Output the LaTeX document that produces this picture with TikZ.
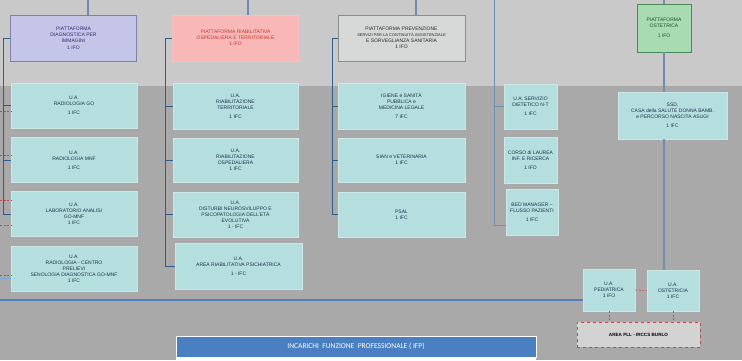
\documentclass[tikz,border=0pt]{standalone}
\usepackage{fontspec}
\setmainfont{Liberation Sans}
\newfontfamily\bannerfont{Carlito}
\usetikzlibrary{positioning, calc, arrows.meta}
\definecolor{topgrey}{HTML}{C8C9C8}
\definecolor{lowgrey}{HTML}{A9A9AA}
\definecolor{uafill}{HTML}{B5DFDE}
\definecolor{uaedge}{HTML}{CBE8E7}
\definecolor{uatext}{HTML}{1C2F4A}
\definecolor{spineblue}{HTML}{2F5F88}
\definecolor{linkgrey}{HTML}{6F8FAF}
\definecolor{reddash}{HTML}{D0454A}
\definecolor{bannerblue}{HTML}{4A7FC1}

\begin{document}
\begin{tikzpicture}[x=1pt, y=-1pt,
		box/.style={draw, rectangle, align=center, inner sep=1pt, font=\fontsize{5}{6}\selectfont},
		piatt/.style={box, minimum width=126pt, minimum height=46pt, line width=0.8pt},
		ua/.style={box, fill=uafill, draw=uaedge, text=uatext, line width=0.6pt, minimum width=126pt, minimum height=45pt},
		uasmall/.style={ua, minimum width=53pt},
		spine/.style={draw=spineblue, line width=1pt},
		link/.style={draw=linkgrey, line width=1.3pt},
		redlink/.style={draw=reddash, dashed, line width=0.6pt, dash pattern=on 2pt off 1.5pt}
		]
		\useasboundingbox (0,0) rectangle (742,360);
		\fill[topgrey] (0,0) rectangle (742,86);
		\fill[lowgrey] (0,86) rectangle (742,360);

		% piattaforme
		\node[piatt, fill={rgb,255:red,197;green,197;blue,232}, draw={rgb,255:red,127;green,127;blue,176}, text={rgb,255:red,42;green,42;blue,122}] (P1) at (73.5,38.5) {PIATTAFORMA\\DIAGNOSTICA PER\\IMMAGINI\\[1pt]1 IFO};
		\node[piatt, fill={rgb,255:red,249;green,184;blue,184}, draw={rgb,255:red,249;green,190;blue,190}, text={rgb,255:red,192;green,57;blue,43}] (P2) at (235.5,38) {PIATTAFORMA RIABILITATIVA\\OSPEDALIERA E TERRITORIALE\\1 IFO};
		\node[piatt, minimum width=127pt, fill={rgb,255:red,214;green,216;blue,216}, draw={rgb,255:red,140;green,140;blue,140}, text={rgb,255:red,40;green,40;blue,40}] (P3) at (401.5,38) {PIATTAFORMA PREVENZIONE\\{\fontsize{4}{6}\selectfont SERVIZI PER LA CONTINUITÀ ASSISTENZIALE}\\E SORVEGLIANZA SANITARIA\\1 IFO};
		\node[piatt, minimum width=54pt, minimum height=48pt, fill={rgb,255:red,168;green,220;blue,176}, draw={rgb,255:red,74;green,138;blue,90}, text={rgb,255:red,30;green,77;blue,43}] (P4) at (664,28) {PIATTAFORMA\\OSTETRICA\\[4pt]1 IFO};

		% colonna diagnostica
		\node[ua] (A1) at (74,105.5) {U.A.\\RADIOLOGIA GO\\[3pt]1 IFC};
		\node[ua] (A2) at (74,160) {U.A.\\RADIOLOGIA MNF\\[3pt]1 IFC};
		\node[ua] (A3) at (74,214) {U.A.\\LABORATORIO ANALISI\\GO-MNF\\1 IFC};
		\node[ua] (A4) at (74,268.5) {U.A.\\RADIOLOGIA - CENTRO\\PRELIEVI\\SENOLOGIA DIAGNOSTICA GO-MNF\\1 IFC};

		% colonna riabilitativa
		\node[ua, minimum width=125pt, minimum height=46pt] (B1) at (235.5,106) {U.A.\\RIABILITAZIONE\\TERRITORIALE\\[3pt]1 IFC};
		\node[ua, minimum width=125pt, minimum height=44pt] (B2) at (235.5,160) {U.A.\\RIABILITAZIONE\\OSPEDALIERA\\1 IFC};
		\node[ua, minimum width=125pt] (B3) at (235.5,214.5) {U.A.\\DISTURBI NEUROSVILUPPO E\\PSICOPATOLOGIA DELL'ETÀ\\EVOLUTIVA\\1 - IFC};
		\node[ua, minimum width=127pt, minimum height=46pt] (B4) at (238.5,266) {U.A.\\AREA RIABILITATIVA PSICHIATRICA\\[3pt]1 - IFC};

		% colonna prevenzione
		\node[ua, minimum width=127pt, minimum height=46pt] (C1) at (401.5,106) {IGIENE e SANITÀ\\PUBBLICA e\\MEDICINA LEGALE\\[3pt]7 IFC};
		\node[ua, minimum width=127pt, minimum height=44pt] (C2) at (401.5,160) {SIAN e VETERINARIA\\1 IFC};
		\node[ua, minimum width=127pt] (C3) at (401.5,214.5) {PSAL\\1 IFC};

		% unita' isolate
		\node[uasmall] (D1) at (530.5,106.5) {U.A. SERVIZIO\\DIETETICO N-T\\[3pt]1 IFC};
		\node[uasmall, minimum height=46pt] (D2) at (530.5,160) {CORSO di LAUREA\\INF. E RICERCA\\[3pt]1 IFO};
		\node[uasmall, minimum width=52pt, minimum height=46pt] (D3) at (532,212) {BED MANAGER –\\FLUSSO PAZIENTI\\[3pt]1 IFC};

		% area ostetrica
		\node[ua, minimum width=109pt, minimum height=47pt] (E1) at (672.5,115.5) {SSD,\\CASA della SALUTE DONNA BAMB.\\e PERCORSO NASCITA ASUGI\\[3pt]1 IFC};
		\node[uasmall, minimum width=52pt, minimum height=42pt] (PED) at (609,290) {U.A.\\PEDIATRICA\\1 IFO};
		\node[uasmall, minimum width=52pt, minimum height=41pt] (OST) at (673,290.5) {U.A.\\OSTETRICIA\\1 IFC};
		\node[box, draw=reddash, dashed, line width=0.8pt, fill={rgb,255:red,211;green,211;blue,211}, minimum width=123pt, minimum height=25pt, font=\bfseries\fontsize{4.6}{6}\selectfont] (AREA) at (638.5,334.5) {AREA PLL - IRCCS BURLO};

		% legenda
		\node[draw=white, line width=0.8pt, fill=bannerblue, text=white, minimum width=360pt, minimum height=21pt, inner sep=0pt, font=\bannerfont\fontsize{7.5}{9}\selectfont] (LEG) at (356,346.5) {INCARICHI\ \ FUNZIONE\ \ PROFESSIONALE ( IFP)};
		\fill[white] (LEG.south west) rectangle (LEG.south east |- 0,360);

		% collegamenti dall'alto
		\coordinate (t1) at (88,0);
		\coordinate (t2) at (248,0);
		\coordinate (t3) at (416,0);
		\coordinate (t4) at (494,0);
		\coordinate (t5) at (664,0);
		\draw[link] (t1) -- (t1 |- P1.north);
		\draw[link] (t2) -- (t2 |- P2.north);
		\draw[link] (t3) -- (t3 |- P3.north);
		\draw[link] (t5) -- (P4.north);
		\draw[link] (P4.south) -- (P4.south |- E1.north);
		\draw[link] (P4.south |- E1.south) -- (P4.south |- OST.north);

		% dorsali
		\coordinate (s1) at (3,0);
		\coordinate (s2) at (165,0);
		\coordinate (s3) at (332,0);
		\draw[spine] (P1.west) -- (P1.west -| s1) |- (A3.west);
		\foreach \n in {A1,A2} \draw[spine] (\n.west -| s1) -- (\n.west);
		\draw[spine] (P2.west) -- (P2.west -| s2) |- (B4.west);
		\foreach \n in {B1,B2,B3} \draw[spine] (\n.west -| s2) -- (\n.west);
		\draw[spine] (P3.west) -- (P3.west -| s3) |- (C3.west);
		\foreach \n in {C1,C2} \draw[spine] (\n.west -| s3) -- (\n.west);
		\coordinate (d3) at (D3.west |- 0,225);
		\draw[spine, draw=linkgrey] (t4) |- (d3);
		\draw[spine, draw=linkgrey] (t4 |- D1.west) -- (D1.west);

		% linea inferiore verso pediatria
		\coordinate (h0) at (0,300);
		\draw[link, draw={rgb,255:red,79;green,129;blue,189}] (h0) -- (h0 -| PED.west);
		\coordinate (h1) at (0,278);
		\draw[link, draw={rgb,255:red,120;green,170;blue,220}, line width=0.8pt] (h1) -- (h1 -| A4.west);

		% rimandi tratteggiati
		\foreach \y in {111,155,200,225,275} {
			\coordinate (r) at (0,\y);
			\draw[redlink] (r) -- (r -| A1.west);
		}
		\draw[redlink] (PED.east) -- (OST.west);
		\draw[redlink] (PED.south) -- (PED.south |- AREA.north);
		\draw[redlink] (OST.south) -- (OST.south |- AREA.north);
	\end{tikzpicture}
\end{document}
